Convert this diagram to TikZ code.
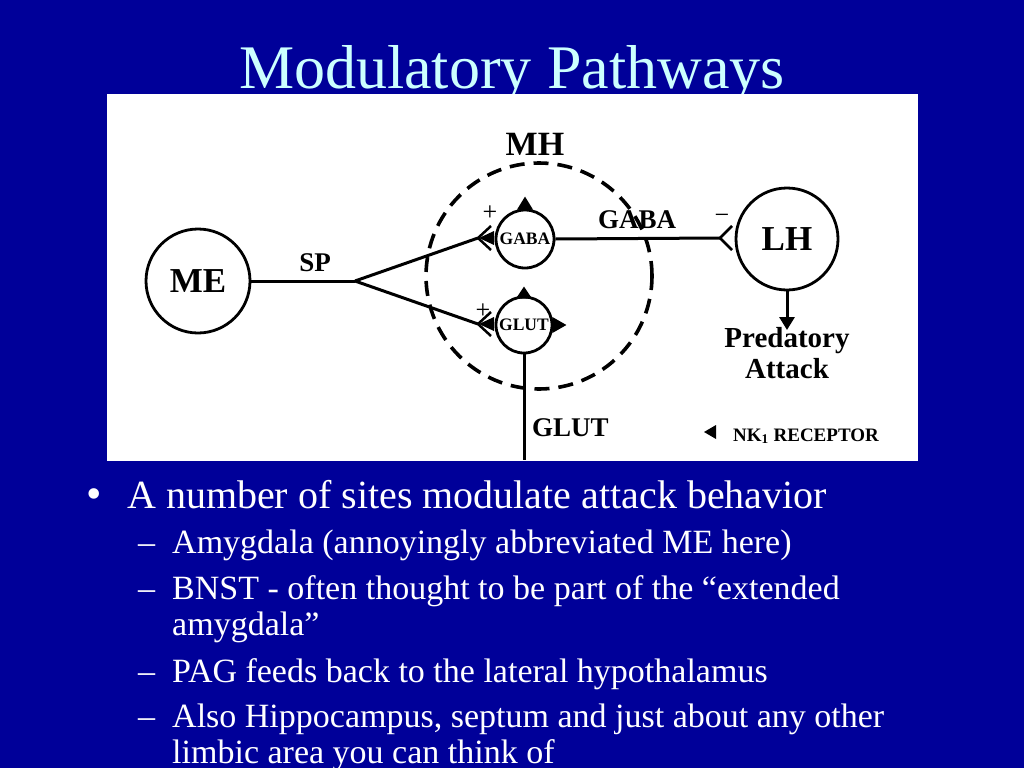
\documentclass[tikz,border=0pt]{standalone}
\usepackage{fontspec}
\setmainfont{Liberation Serif}
\usetikzlibrary{arrows.meta}
\definecolor{bg}{RGB}{0,0,153}
\definecolor{titlec}{RGB}{204,255,255}
\begin{document}
\begin{tikzpicture}[x=1pt,y=-1pt,
  circ/.style={draw, circle, line width=2.8pt, inner sep=0pt},
  big/.style={font=\bfseries\fontsize{35}{38}\selectfont},
  small/.style={font=\bfseries\fontsize{17.5}{19}\selectfont},
  lbl/.style={font=\bfseries\fontsize{27}{30}\selectfont, inner sep=0pt},
  conn/.style={line width=3pt},
  sign/.style={font=\fontsize{26}{28}\selectfont, inner sep=0pt},
  mainb/.style={anchor=base west, text=white, inner sep=0pt, font=\fontsize{40}{44}\selectfont},
  subb/.style={anchor=base west, text=white, inner sep=0pt, font=\fontsize{34}{36}\selectfont}]
\fill[bg] (0,0) rectangle (1024,768);
\useasboundingbox (0,0) rectangle (1024,768);
% title
\node[anchor=base, text=titlec, inner sep=0pt, font=\fontsize{62}{64}\selectfont] (title) at (512,88) {Modulatory Pathways};
% panel
\fill[white] (107,94) rectangle (918,461);
% MH dashed circle
\node[draw, circle, line width=3.6pt, dash pattern=on 15pt off 9pt, minimum size=226pt, inner sep=0pt] (mh) at (539,276) {};
\node[anchor=base, inner sep=0pt, font=\bfseries\fontsize{34}{36}\selectfont] (mhl) at (535,155) {MH};
% nodes
\node[circ, big, minimum size=104pt] (me) at (198,281) {ME};
\node[circ, small, minimum size=58pt] (gaba) at (525,239) {GABA};
\node[circ, small, minimum size=56pt] (glut) at (524,325) {GLUT};
\node[circ, big, minimum size=102pt] (lh) at (787,239) {LH};
% SP pathway
\coordinate (br) at (355,281);
\coordinate (ga) at (478,238);
\coordinate (gl) at (478,324);
\draw[conn] (me) -- (br);
\draw[conn] (br) -- (ga);
\draw[conn] (br) -- (gl);
\node[lbl, anchor=base] (sp) at (315,271) {SP};
% receptor symbols at GABA / GLUT inputs
\draw[line width=2.5pt] ([shift={(13,-12)}]ga) -- (ga) -- ([shift={(13,12)}]ga);
\fill ([shift={(1,0)}]ga) -- ++(15,-7) -- ++(0,14) -- cycle;
\draw[line width=2.5pt] ([shift={(13,-12)}]gl) -- (gl) -- ([shift={(13,12)}]gl);
\fill ([shift={(1,0)}]gl) -- ++(15,-7) -- ++(0,14) -- cycle;
\node[sign] (p1) at (490,213) {+};
\node[sign] (p2) at (483,311) {+};
% NK1 triangles on cells
\fill ([yshift=-1pt]gaba.north) -- ++(-8,0) -- ++(8,-13) -- ++(8,13) -- cycle;
\fill ([yshift=-3pt]glut.north) -- ++(-8,0) -- ++(8,-12) -- ++(8,12) -- cycle;
\fill ([xshift=-1pt]glut.east) -- ++(0,-8) -- ++(14,8) -- ++(-14,8) -- cycle;
% GABA projection to LH
\coordinate (lhin) at (720,238);
\draw[conn] (gaba.east) -- (lhin);
\draw[line width=2.5pt] ([shift={(12,-12)}]lhin) -- (lhin) -- ([shift={(12,12)}]lhin);
\node[lbl, anchor=base west] (gabal) at (598,228) {GABA};
\node[sign] (m1) at (722,219) {−};
% LH output
\node[anchor=north, align=center, inner sep=0pt, font=\bfseries\fontsize{29}{31}\selectfont] (pred) at (787,327) {Predatory\\Attack};
\draw[conn, -{Triangle[length=13pt,width=15pt]}] (lh.south) -- ([yshift=-3pt]pred.north);
% GLUT output
\coordinate (glout) at (524,460);
\draw[conn] (glut.south) -- (glout);
\node[lbl, anchor=base west] (glutl) at (532,436) {GLUT};
% legend
\coordinate (leg) at (704,432);
\fill (leg) -- ++(12,-7) -- ++(0,14) -- cycle;
\node[anchor=base west, inner sep=0pt, font=\bfseries\fontsize{19}{21}\selectfont] (legl) at (733,441) {NK\textsubscript{1} RECEPTOR};
% bullets
\node[anchor=base west, text=white, inner sep=0pt, font=\fontsize{44}{46}\selectfont] (dot) at (86,508) {•};
\node[mainb] (b0) at (127,508) {A number of sites modulate attack behavior};
\node[subb] (d1) at (138,553) {–};
\node[subb] (b1) at (172,553) {Amygdala (annoyingly abbreviated ME here)};
\node[subb] (d2) at (138,599) {–};
\node[subb] (b2) at (172,599) {BNST - often thought to be part of the “extended};
\node[subb] (b2b) at (172,635) {amygdala”};
\node[subb] (d3) at (138,682) {–};
\node[subb] (b3) at (172,682) {PAG feeds back to the lateral hypothalamus};
\node[subb] (d4) at (138,727) {–};
\node[subb] (b4) at (172,727) {Also Hippocampus, septum and just about any other};
\node[subb] (b4b) at (172,763) {limbic area you can think of};
\end{tikzpicture}
\end{document}
